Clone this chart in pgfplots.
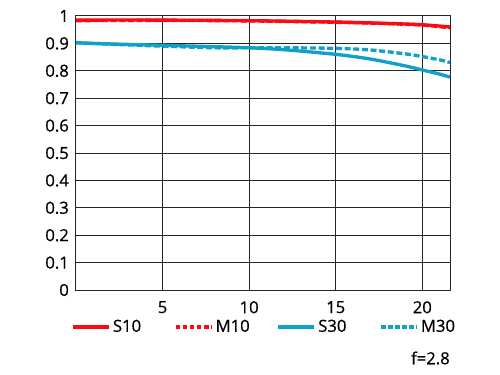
\documentclass[border=0pt]{standalone}
\usepackage{pgfplots}
\pgfplotsset{compat=1.18}
\usepackage{fontspec}
\setmainfont{Open Sans}[FakeBold=0.6]
\definecolor{myred}{RGB}{250,10,20}
\definecolor{myblue}{RGB}{16,160,200}
\begin{document}
\fontsize{12.5pt}{14pt}\selectfont
\begin{tikzpicture}
\path (-57pt,-63.75pt) rectangle (318pt,217.5pt);
\begin{axis}[
  at={(0,0)}, anchor=south west,
  scale only axis, width=280.5pt, height=205.5pt,
  xmin=0, xmax=21.6, ymin=0, ymax=1,
  xtick={5,10,15,20}, ytick={0,0.1,...,1.01},
  yticklabel style={/pgf/number format/fixed,/pgf/number format/precision=1},
  /pgf/number format/assume math mode=true,
  grid=major, grid style={black!85, line width=0.75pt},
  axis line style={black!85, line width=0.75pt},
  major tick length=0pt,
  xticklabel style={yshift=-4pt},
  yticklabel style={xshift=-1pt},
  tick label style={font=\fontsize{12.5pt}{14pt}\selectfont},
  legend columns=4,
  legend style={draw=none, fill=none, at={(0,0)}, anchor=west, xshift=-4pt, yshift=-27.75pt,
    font=\fontsize{12.5pt}{14pt}\selectfont, inner sep=0pt,
    nodes={inner sep=1.5pt, text width=44pt, align=left},
    /tikz/every even column/.append style={column sep=0pt}},
  legend image code/.code={\draw[#1, line width=3pt, dash pattern=on 3.5pt off 1.8pt] (0pt,0pt) -- (27pt,0pt);},
  every axis plot/.append style={line width=2.5pt, smooth},
]
\addplot[myred, legend image code/.code={\draw[myred, line width=3pt] (0pt,0pt) -- (27pt,0pt);}] coordinates {(0,0.985) (5,0.985) (10,0.983) (15,0.978) (18,0.973) (20,0.968) (21.6,0.96)};
\addlegendentry{S10}
\addplot[myred, dash pattern=on 4.5pt off 2pt] coordinates {(0,0.983) (5,0.984) (10,0.982) (15,0.977) (18,0.972) (20,0.967) (21.6,0.957)};
\addlegendentry{M10}
\addplot[myblue, legend image code/.code={\draw[myblue, line width=3pt] (0pt,0pt) -- (27pt,0pt);}] coordinates {(0,0.902) (2,0.898) (5,0.893) (8,0.888) (10,0.884) (12,0.877) (15,0.860) (17,0.843) (19,0.818) (20,0.803) (21,0.788) (21.6,0.777)};
\addlegendentry{S30}
\addplot[myblue, dash pattern=on 4.5pt off 2pt] coordinates {(0,0.903) (2,0.897) (5,0.890) (8,0.884) (10,0.884) (12,0.884) (15,0.882) (17,0.876) (19,0.862) (20,0.852) (21,0.840) (21.6,0.83)};
\addlegendentry{M30}
\end{axis}
\node[anchor=east, inner sep=0pt] at (280.5pt,-51pt) {f=2.8};
\end{tikzpicture}
\end{document}
